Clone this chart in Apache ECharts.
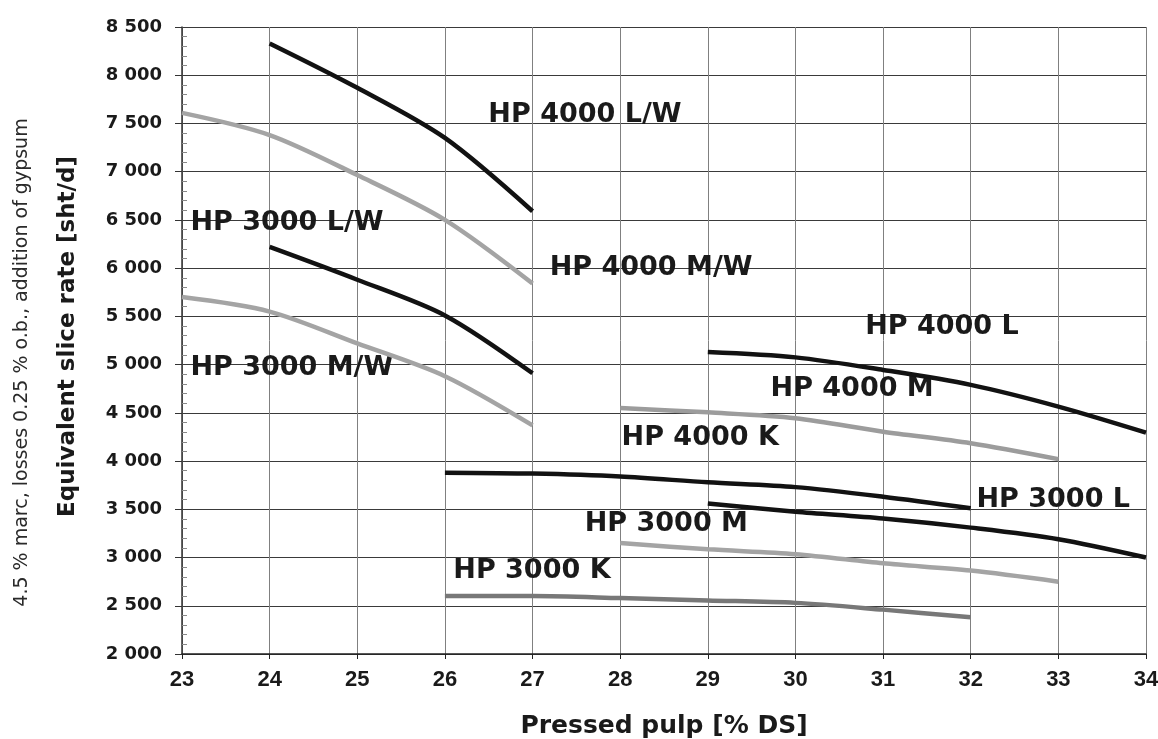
<!DOCTYPE html>
<html>
<head>
<meta charset="utf-8">
<script src="https://cdn.jsdelivr.net/npm/echarts@6/dist/echarts.min.js"></script>
<style>
html, body { margin: 0; padding: 0; background: #fff; }
#chart { width: 1158px; height: 739px; }
</style>
</head>
<body>
<div id="chart"></div>
<script>
// pressed pulp [% DS] for each curve
var dsHp4000LW = [24, 25, 26, 27];
var dsHp4000MW = [23, 24, 25, 26, 27];
var dsHp3000LW = [24, 25, 26, 27];
var dsHp3000MW = [23, 24, 25, 26, 27];
var dsHp4000L = [29, 30, 31, 32, 33, 34];
var dsHp4000M = [28, 29, 30, 31, 32, 33];
var dsHp4000K = [26, 27, 28, 29, 30, 31, 32];
var dsHp3000L = [29, 30, 31, 32, 33, 34];
var dsHp3000M = [28, 29, 30, 31, 32, 33];
var dsHp3000K = [26, 27, 28, 29, 30, 31, 32];

// equivalent slice rate [sht/d]
var rateHp4000LW = [8330, 7870, 7350, 6590];
var rateHp4000MW = [7610, 7380, 6965, 6500, 5840];
var rateHp3000LW = [6220, 5880, 5510, 4910];
var rateHp3000MW = [5700, 5550, 5220, 4880, 4370];
var rateHp4000L = [5130, 5075, 4945, 4790, 4565, 4295];
var rateHp4000M = [4550, 4505, 4445, 4305, 4185, 4020];
var rateHp4000K = [3880, 3870, 3840, 3780, 3730, 3630, 3510];
var rateHp3000L = [3560, 3475, 3405, 3310, 3190, 3000];
var rateHp3000M = [3150, 3085, 3035, 2940, 2865, 2750];
var rateHp3000K = [2600, 2600, 2580, 2555, 2530, 2460, 2380];

// curve labels: text, pulp, rate where the label starts
var notes = [
    ['HP 4000 L/W', 26.49, 7590],
    ['HP 3000 L/W', 23.09, 6470],
    ['HP 4000 M/W', 27.19, 6000],
    ['HP 3000 M/W', 23.09, 4965],
    ['HP 4000 L', 30.79, 5390],
    ['HP 4000 M', 29.71, 4745],
    ['HP 4000 K', 28.01, 4235],
    ['HP 3000 L', 32.06, 3595],
    ['HP 3000 M', 27.59, 3350],
    ['HP 3000 K', 26.09, 2865]
];

var xMin = 23, xMax = 34, xStep = 1;
var yMin = 2000, yMax = 8500, yStep = 500;

function pairs(xs, ys) {
    return xs.map(function (x, i) { return [x, ys[i]]; });
}

function curve(name, xs, ys, color) {
    return {
        name: name,
        type: 'line',
        smooth: 0.3,
        showSymbol: false,
        lineStyle: { color: color, width: 4.5 },
        data: pairs(xs, ys)
    };
}

var black = '#121212';
var grey = '#a4a4a4';

var myChart = echarts.init(document.getElementById('chart'));
myChart.setOption({
    animation: false,
    grid: {
        left: 182,
        right: 12,
        top: 27,
        bottom: 85,
        outerBoundsMode: 'none'
    },
    xAxis: {
        type: 'value',
        min: xMin,
        max: xMax,
        interval: xStep,
        axisLine: { lineStyle: { color: '#222', width: 1.5 } },
        axisTick: { length: 5, lineStyle: { color: '#222' } },
        axisLabel: {
            fontFamily: 'Liberation Sans',
            fontWeight: 'bold',
            fontSize: 22,
            color: '#1a1a1a',
            margin: 15
        },
        splitLine: { show: true, lineStyle: { color: '#808080', width: 1 } },
        name: 'Pressed pulp [% DS]',
        nameLocation: 'middle',
        nameGap: 60,
        nameTextStyle: {
            fontFamily: 'DejaVu Sans',
            fontWeight: 'bold',
            fontSize: 25,
            color: '#1a1a1a'
        }
    },
    yAxis: [
        {
            type: 'value',
            min: yMin,
            max: yMax,
            interval: yStep,
            position: 'left',
            axisLine: { show: true, lineStyle: { color: '#333', width: 1.5 } },
            axisTick: { show: true, length: 7, lineStyle: { color: '#333' } },
            axisLabel: {
                fontFamily: 'DejaVu Sans',
                fontWeight: 'bold',
                fontSize: 18,
                color: '#1a1a1a',
                margin: 20,
                formatter: function (v) {
                    return String(v).replace(/\B(?=(\d{3})+$)/g, ' ');
                }
            },
            splitLine: { show: true, lineStyle: { color: '#3a3a3a', width: 1 } },
            name: 'Equivalent slice rate [sht/d]',
            nameLocation: 'middle',
            nameGap: 102,
            nameTextStyle: {
                fontFamily: 'DejaVu Sans',
                fontWeight: 'bold',
                fontSize: 23,
                color: '#1a1a1a',
                padding: [0, 0, 0, 8]
            }
        },
        {
            // only for the small inner ticks and the second title line
            type: 'value',
            min: yMin,
            max: yMax,
            interval: yStep,
            position: 'left',
            axisLine: { show: false },
            axisTick: { show: false, inside: true },
            minorTick: { show: true, splitNumber: 5, length: 5, lineStyle: { color: '#888' } },
            axisLabel: { show: false },
            splitLine: { show: false },
            name: '4.5 % marc, losses 0.25 % o.b., addition of gypsum',
            nameLocation: 'middle',
            nameGap: 150,
            nameTextStyle: {
                fontFamily: 'DejaVu Sans',
                fontSize: 19,
                color: '#2a2a2a',
                padding: [0, 44, 0, 0]
            }
        }
    ],
    series: [
        curve('HP 4000 L/W', dsHp4000LW, rateHp4000LW, black),
        curve('HP 4000 M/W', dsHp4000MW, rateHp4000MW, grey),
        curve('HP 3000 L/W', dsHp3000LW, rateHp3000LW, black),
        curve('HP 3000 M/W', dsHp3000MW, rateHp3000MW, grey),
        curve('HP 4000 L', dsHp4000L, rateHp4000L, black),
        curve('HP 4000 M', dsHp4000M, rateHp4000M, '#9c9c9c'),
        curve('HP 4000 K', dsHp4000K, rateHp4000K, black),
        curve('HP 3000 L', dsHp3000L, rateHp3000L, black),
        curve('HP 3000 M', dsHp3000M, rateHp3000M, grey),
        curve('HP 3000 K', dsHp3000K, rateHp3000K, '#787878'),
        {
            name: 'labels',
            type: 'scatter',
            silent: true,
            symbolSize: 1,
            itemStyle: { color: 'transparent', opacity: 1 },
            label: {
                show: true,
                position: 'right',
                distance: 0,
                fontFamily: 'DejaVu Sans',
                fontWeight: 'bold',
                fontSize: 27,
                color: '#1a1a1a',
                formatter: function (p) { return p.value[2]; }
            },
            data: notes.map(function (n) { return [n[1], n[2], n[0]]; })
        }
    ]
});
</script>
</body>
</html>
